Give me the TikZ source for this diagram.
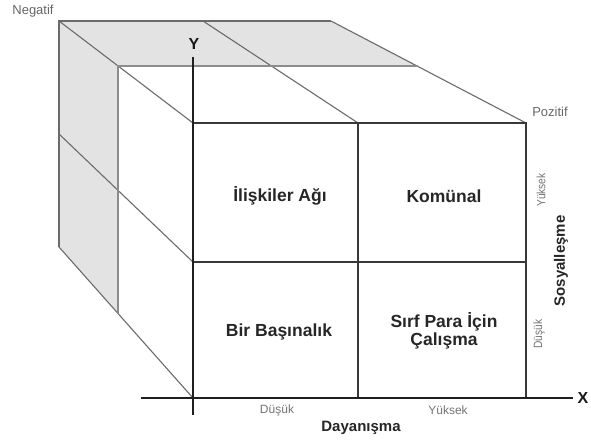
\documentclass[tikz,border=0pt]{standalone}
\usepackage{fontspec}
\setmainfont{Liberation Sans}
\begin{document}
\begin{tikzpicture}[x=1pt,y=-1pt,
  shade/.style={fill=black!11},
  backline/.style={draw=black!58, line width=1.1pt},
  midline/.style={draw=black!45, line width=1.1pt},
  gridline/.style={draw=black!78, line width=1.2pt},
  axisline/.style={draw=black!88, line width=1.9pt},
  cell/.style={font=\fontsize{17.5}{18}\selectfont\bfseries, text=black!85, align=center, inner sep=0pt},
  tick/.style={font=\fontsize{12}{14}\selectfont, text=black!55, inner sep=0pt},
  sidetick/.style={font=\fontsize{12}{14}\selectfont, text=black!55, inner sep=0pt, rotate=90},
  pole/.style={font=\fontsize{13}{15}\selectfont, text=black!60, inner sep=0pt},
  axistitle/.style={font=\fontsize{15}{17}\selectfont\bfseries, text=black!85, inner sep=0pt},
  axisletter/.style={font=\fontsize{16}{18}\selectfont\bfseries, text=black!90, inner sep=0pt}
]
\useasboundingbox (0,0) rectangle (591,441);

% back face corners
\coordinate (bTL) at (59,21);
\coordinate (bTM) at (203,21);
\coordinate (bTR) at (331,21);
\coordinate (bML) at (59,134);
\coordinate (bBL) at (59,247);
% middle layer corners
\coordinate (mTL) at (118,66);
\coordinate (mTR) at (418,66);
\coordinate (mBL) at (118,313);
% front face grid
\coordinate (fTL) at (193,123);
\coordinate (fTM) at (358,123);
\coordinate (fTR) at (526,123);
\coordinate (fML) at (193,262);
\coordinate (fMR) at (526,262);
\coordinate (O)   at (193,398);
\coordinate (fBM) at (358,398);
\coordinate (fBR) at (526,398);
% axis ends
\coordinate (yTop) at (193,57);
\coordinate (yBot) at (193,415);
\coordinate (xL) at (141,398);
\coordinate (xR) at (573,398);

% shaded back half of the top and left faces
\path[shade] (bTL) -- (bTR) -- (mTR) -- (mTL) -- (mBL) -- (bBL) -- cycle;

% back edges and receding lines
\draw[backline] (bBL) -- (bTL) -- (bTR);
\draw[backline] (bTL) -- (fTL);
\draw[backline] (bTM) -- (fTM);
\draw[backline] (bTR) -- (fTR);
\draw[backline] (bML) -- (fML);
\draw[backline] (bBL) -- (O);
% middle layer edges
\draw[midline] (mBL) -- (mTL) -- (mTR);

% front face grid
\draw[gridline] (fTL) -- (fTR) -- (fBR);
\draw[gridline] (fTM) -- (fBM);
\draw[gridline] (fML) -- (fMR);

% axes
\draw[axisline] (yTop) -- (yBot);
\draw[axisline] (xL) -- (xR);
\node[axisletter] (ylab) at (194,44) {Y};
\node[axisletter] (xlab) at (583,398) {X};

% quadrant labels
\node[cell] (q1) at (280,196) {İlişkiler Ağı};
\node[cell] (q2) at (444,196) {Komünal};
\node[cell] (q3) at (279,332) {Bir Başınalık};
\node[cell] (q4) at (444,331) {Sırf Para İçin\\Çalışma};

% axis scale labels
\node[tick] (xlow) at (277,410) {Düşük};
\node[tick] (xhigh) at (448,410) {Yüksek};
\node[axistitle] (xtitle) at (361,428) {Dayanışma};
\node[sidetick] (yhigh) at (541,190) {\scalebox{0.85}[1]{Yüksek}};
\node[sidetick] (ylow) at (539,334) {\scalebox{0.85}[1]{Düşük}};
\node[axistitle, rotate=90] (ytitle) at (561,261) {Sosyalleşme};

% depth poles
\node[pole] (neg) at (33,11) {Negatif};
\node[pole] (pos) at (550,112) {Pozitif};
\end{tikzpicture}
\end{document}
